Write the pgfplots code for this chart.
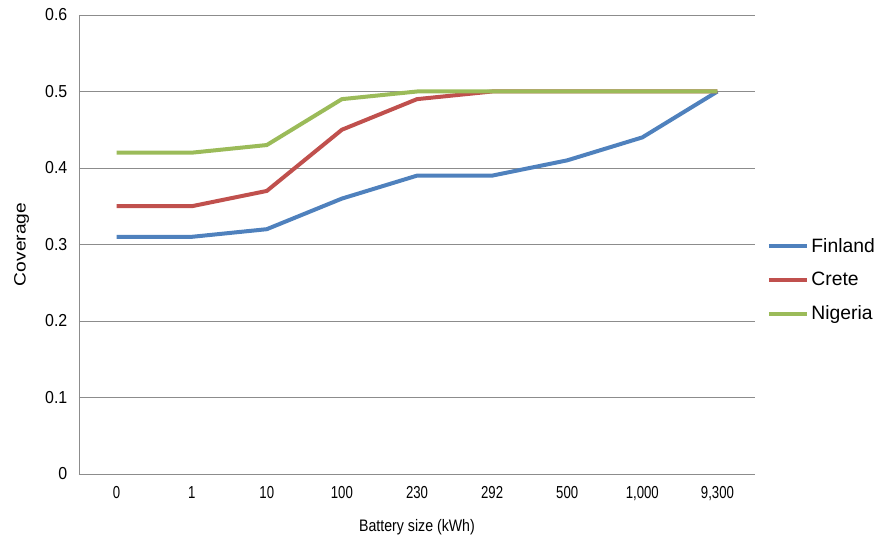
\documentclass[border=0pt]{standalone}
\usepackage{pgfplots}
\pgfplotsset{compat=1.18}
\usepackage{fontspec}
\setmainfont{Liberation Sans}
\definecolor{cfin}{HTML}{4F81BD}
\definecolor{ccre}{HTML}{C0504D}
\definecolor{cnig}{HTML}{9BBB59}
\definecolor{cgrid}{HTML}{8C8C8C}
\begin{document}
\begin{tikzpicture}
\useasboundingbox (-59.25pt,-55.5pt) rectangle (601.5pt,355.5pt);
\begin{axis}[
  at={(0pt,0pt)}, anchor=south west,
  scale only axis, width=507pt, height=344.25pt,
  xmin=-0.5, xmax=8.5, ymin=0, ymax=0.6,
  xtick={0,1,2,3,4,5,6,7,8},
  xticklabels={0,1,10,100,230,292,500,{1,000},{9,300}},
  xticklabel style={font=\fontsize{13}{15}\selectfont, xscale=0.76},
  ytick={0,0.1,0.2,0.3,0.4,0.5,0.6},
  yticklabels={0,0.1,0.2,0.3,0.4,0.5,0.6},
  yticklabel style={font=\fontsize{13}{15}\selectfont, xscale=0.92},
  ymajorgrids, grid style={cgrid, line width=0.6pt},
  axis x line=bottom, axis y line=left,
  axis line style={-, cgrid, line width=0.7pt},
  major tick length=0pt,
  xtick style={draw=none}, ytick style={draw=none},
  xlabel={\scalebox{0.85}[1]{Battery size (kWh)}},
  ylabel={\scalebox{1.17}[1]{Coverage}},
  every axis x label/.style={at={(axis description cs:0.5,0)}, anchor=center, yshift=-39.75pt, font=\fontsize{12.5}{14}\selectfont},
  every axis y label/.style={at={(axis description cs:0,0.5)}, rotate=90, anchor=center, yshift=43pt, font=\fontsize{12.3}{14}\selectfont},
  x tick label style={yshift=-6pt},
  y tick label style={xshift=-6pt},
  legend style={at={(rel axis cs:1.017,0.4227)}, anchor=west, draw=none, fill=none,
    font=\fontsize{14.5}{16}\selectfont, row sep=9.5pt, inner sep=0pt},
  legend cell align=left,
  legend image code/.code={\draw[#1, line width=3pt] (0pt,0pt) -- (28.5pt,0pt);},
  every axis plot/.append style={line width=3pt, line join=round, mark=none},
]
\addplot[cfin] coordinates {(0,0.31) (1,0.31) (2,0.32) (3,0.36) (4,0.39) (5,0.39) (6,0.41) (7,0.44) (8,0.50)};
\addlegendentry{Finland}
\addplot[ccre] coordinates {(0,0.35) (1,0.35) (2,0.37) (3,0.45) (4,0.49) (5,0.50) (6,0.50) (7,0.50) (8,0.50)};
\addlegendentry{Crete}
\addplot[cnig] coordinates {(0,0.42) (1,0.42) (2,0.43) (3,0.49) (4,0.50) (5,0.50) (6,0.50) (7,0.50) (8,0.50)};
\addlegendentry{Nigeria}
\end{axis}
\end{tikzpicture}
\end{document}
